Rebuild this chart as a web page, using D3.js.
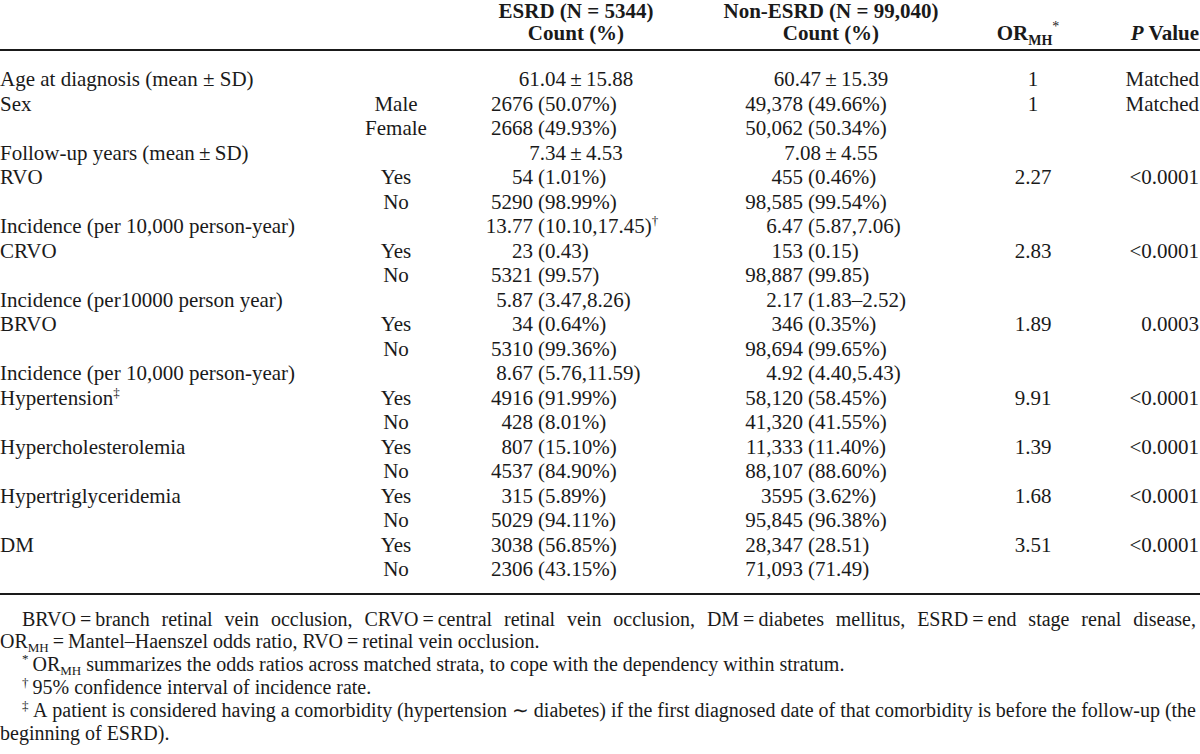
<!DOCTYPE html>
<html>
<head>
<meta charset="utf-8">
<script src="https://cdn.jsdelivr.net/npm/d3@7"></script>
<style>
  html, body { margin: 0; padding: 0; background: #fff; }
  svg { display: block; }
  text { font-family: "Liberation Serif", "Times New Roman", serif; fill: #1a1a1a; }
</style>
</head>
<body>
<svg id="chart" width="1200" height="754"></svg>
<script>
// ---------- data ----------
const rowLabels = ["Age at diagnosis (mean \u00b1 SD)", "Sex", "", "Follow-up years (mean\u2009\u00b1\u2009SD)", "RVO", "",
  "Incidence (per 10,000 person-year)", "CRVO", "", "Incidence (per10000 person year)", "BRVO", "",
  "Incidence (per 10,000 person-year)", "Hypertension", "", "Hypercholesterolemia", "", "Hypertriglyceridemia", "", "DM", ""];
const labelMarks = ["", "", "", "", "", "", "", "", "", "", "", "", "", "\u2021", "", "", "", "", "", "", ""];
const subLabels = ["", "Male", "Female", "", "Yes", "No", "", "Yes", "No", "", "Yes", "No", "", "Yes", "No", "Yes", "No", "Yes", "No", "Yes", "No"];
const rowKinds = ["mean", "count", "count", "mean", "count", "count", "count", "count", "count", "count", "count", "count",
  "count", "count", "count", "count", "count", "count", "count", "count", "count"];
const esrdMain = ["61.04", "2676", "2668", "7.34", "54", "5290", "13.77", "23", "5321", "5.87", "34", "5310", "8.67",
  "4916", "428", "807", "4537", "315", "5029", "3038", "2306"];
const esrdSecond = ["15.88", "50.07%", "49.93%", "4.53", "1.01%", "98.99%", "10.10,17.45", "0.43", "99.57", "3.47,8.26",
  "0.64%", "99.36%", "5.76,11.59", "91.99%", "8.01%", "15.10%", "84.90%", "5.89%", "94.11%", "56.85%", "43.15%"];
const esrdMarks = ["", "", "", "", "", "", "\u2020", "", "", "", "", "", "", "", "", "", "", "", "", "", ""];
const nonMain = ["60.47", "49,378", "50,062", "7.08", "455", "98,585", "6.47", "153", "98,887", "2.17", "346", "98,694",
  "4.92", "58,120", "41,320", "11,333", "88,107", "3595", "95,845", "28,347", "71,093"];
const nonSecond = ["15.39", "49.66%", "50.34%", "4.55", "0.46%", "99.54%", "5.87,7.06", "0.15", "99.85", "1.83\u20132.52",
  "0.35%", "99.65%", "4.40,5.43", "58.45%", "41.55%", "11.40%", "88.60%", "3.62%", "96.38%", "28.51", "71.49"];
const orValues = ["1", "1", "", "", "2.27", "", "", "2.83", "", "", "1.89", "", "", "9.91", "", "1.39", "", "1.68", "", "3.51", ""];
const pValues = ["Matched", "Matched", "", "", "<0.0001", "", "", "<0.0001", "", "", "0.0003", "", "", "<0.0001", "",
  "<0.0001", "", "<0.0001", "", "<0.0001", ""];
const headerGroups = ["ESRD (N = 5344)", "Non-ESRD (N = 99,040)"];
const headerSub = ["Count (%)", "Count (%)"];
const footnote1 = "BRVO\u2009=\u2009branch retinal vein occlusion, CRVO\u2009=\u2009central retinal vein occlusion, DM\u2009=\u2009diabetes mellitus, ESRD\u2009=\u2009end stage renal disease,";
const footnote2 = "\u2009=\u2009Mantel\u2013Haenszel odds ratio, RVO\u2009=\u2009retinal vein occlusion.";
const footnote3 = " summarizes the odds ratios across matched strata, to cope with the dependency within stratum.";
const footnote4 = "95% confidence interval of incidence rate.";
const footnote5 = "A patient is considered having a comorbidity (hypertension \u223c diabetes) if the first diagnosed date of that comorbidity is before the follow-up (the";
const footnote6 = "beginning of ESRD).";

// ---------- layout ----------
const W = 1200, FS = 21, FFS = 20;
const svg = d3.select("#chart");
const rowIdx = d3.range(rowLabels.length);
const y = d3.scalePoint().domain(rowIdx).range([86, 576]);
const col = {
  label: 0, sub: 396,
  esrdNum: 533, esrdCenter: 576,
  nonNum: 803, nonCenter: 831,
  or: 1033, p: 1199
};
const gap = 5;

// header
const hdr = svg.append("g").attr("font-weight", "bold").attr("font-size", FS);
[col.esrdCenter, col.nonCenter].forEach((cx, i) => {
  hdr.append("text").attr("x", cx).attr("y", 18).attr("text-anchor", "middle").text(headerGroups[i]);
  hdr.append("text").attr("x", cx).attr("y", 40).attr("text-anchor", "middle").text(headerSub[i]);
});
const orH = hdr.append("text").attr("x", col.or - 5).attr("y", 40).attr("text-anchor", "middle");
orH.append("tspan").text("OR");
orH.append("tspan").attr("font-size", 14).attr("dy", 5).text("MH");
orH.append("tspan").attr("font-size", 14).attr("font-weight", "normal").attr("dy", -14).text("*");
const pH = hdr.append("text").attr("x", col.p).attr("y", 40).attr("text-anchor", "end");
pH.append("tspan").attr("font-style", "italic").text("P");
pH.append("tspan").text(" Value");

// rules
const rule = (yy) => svg.append("line").attr("x1", 0).attr("x2", W).attr("y1", yy).attr("y2", yy)
  .attr("stroke", "#1a1a1a").attr("stroke-width", 2);
rule(50);
rule(594);

// body
const body = svg.append("g").attr("font-size", FS);
const rows = body.selectAll("g.row").data(rowIdx).join("g").attr("class", "row")
  .attr("transform", i => `translate(0,${y(i)})`);

rows.each(function(i) {
  const g = d3.select(this);
  if (rowLabels[i]) {
    const t = g.append("text").attr("x", col.label).text(rowLabels[i]);
    if (labelMarks[i]) t.append("tspan").attr("font-size", 13).attr("dy", -8).text(labelMarks[i]);
  }
  if (subLabels[i]) g.append("text").attr("x", col.sub).attr("text-anchor", "middle").text(subLabels[i]);
  const cells = [
    { main: esrdMain[i], second: esrdSecond[i], mark: esrdMarks[i], num: col.esrdNum, center: col.esrdCenter },
    { main: nonMain[i], second: nonSecond[i], mark: "", num: col.nonNum, center: col.nonCenter }
  ];
  cells.forEach(c => {
    if (rowKinds[i] === "mean") {
      g.append("text").attr("x", c.center).attr("text-anchor", "middle")
        .text(c.main + "\u2009\u00b1\u2009" + c.second);
    } else {
      g.append("text").attr("x", c.num).attr("text-anchor", "end").text(c.main);
      const t = g.append("text").attr("x", c.num + gap).text("(" + c.second + ")");
      if (c.mark) t.append("tspan").attr("font-size", 13).attr("dy", -8).text(c.mark);
    }
  });
  if (orValues[i]) g.append("text").attr("x", col.or).attr("text-anchor", "middle").text(orValues[i]);
  if (pValues[i]) g.append("text").attr("x", col.p).attr("text-anchor", "end").text(pValues[i]);
});

// footnotes
const foot = svg.append("g").attr("font-size", FFS);
const fy = [626, 648, 671, 694, 717, 740];
const indent = 22;

function justify(str, x0, x1, yy) {
  const words = str.split(" ");
  const nodes = words.map(w => foot.append("text").attr("y", yy).text(w));
  const widths = nodes.map(n => n.node().getComputedTextLength());
  const total = d3.sum(widths);
  const sp = (x1 - x0 - total) / (words.length - 1);
  let x = x0;
  nodes.forEach((n, k) => { n.attr("x", x); x += widths[k] + sp; });
}
justify(footnote1, indent, 1196, fy[0]);

const f2 = foot.append("text").attr("x", 0).attr("y", fy[1]);
f2.append("tspan").text("OR");
f2.append("tspan").attr("font-size", 13).attr("dy", 4).text("MH");
f2.append("tspan").attr("dy", -4).text(footnote2);

const f3 = foot.append("text").attr("x", indent).attr("y", fy[2]);
f3.append("tspan").attr("font-size", 13).attr("dy", -8).text("*");
f3.append("tspan").attr("dy", 8).text("\u2009OR");
f3.append("tspan").attr("font-size", 13).attr("dy", 4).text("MH");
f3.append("tspan").attr("dy", -4).text(footnote3);

const f4 = foot.append("text").attr("x", indent).attr("y", fy[3]);
f4.append("tspan").attr("font-size", 13).attr("dy", -7).text("\u2020");
f4.append("tspan").attr("dy", 7).text("\u2009" + footnote4);

foot.append("text").attr("x", indent).attr("y", fy[4]).attr("font-size", 13).attr("dy", -7).text("\u2021");
justify(footnote5, indent + 11, 1196, fy[4]);

foot.append("text").attr("x", 0).attr("y", fy[5]).text(footnote6);
</script>
</body>
</html>
